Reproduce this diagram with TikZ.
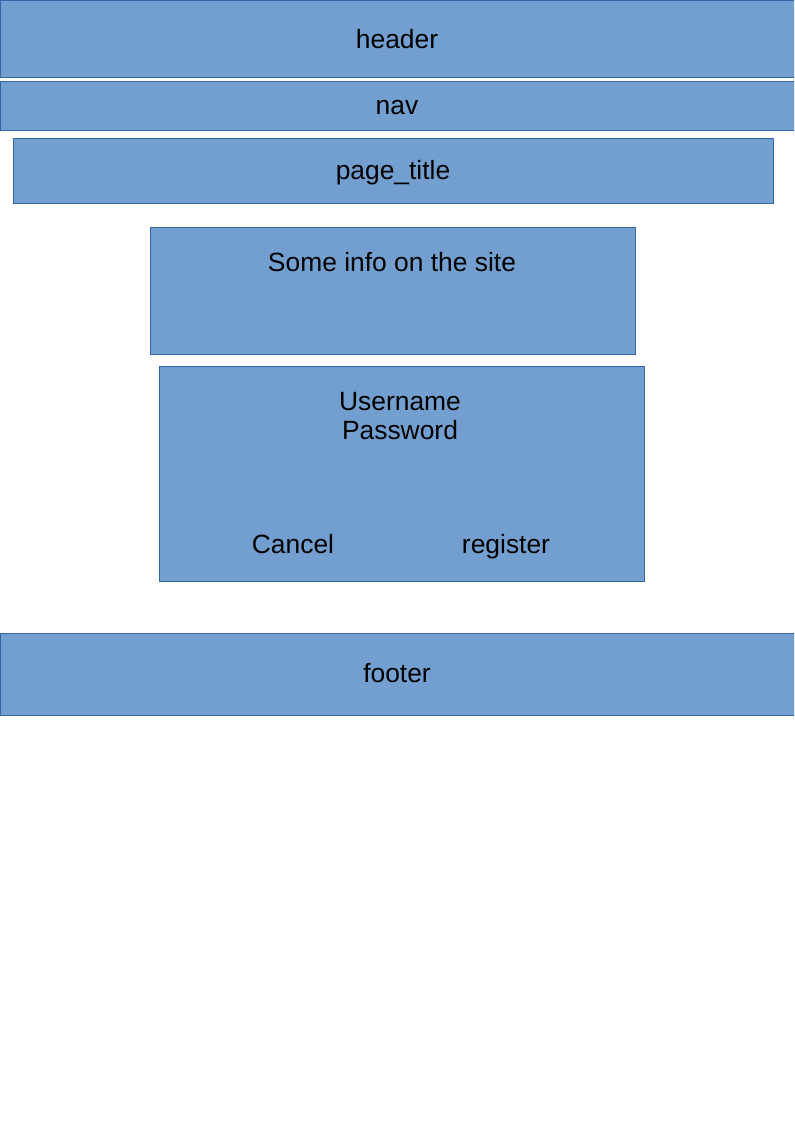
\documentclass[tikz,border=0pt]{standalone}
\usepackage{fontspec}
\setmainfont{Liberation Sans}
\usetikzlibrary{positioning}
\definecolor{boxblue}{RGB}{114,159,207}
\definecolor{edgeblue}{RGB}{52,101,164}
\tikzset{
    block/.style={rectangle, draw=edgeblue, fill=boxblue, line width=0.75pt, inner sep=0pt},
    btext/.style={font=\fontsize{19.8}{21.75}\selectfont, anchor=base, inner sep=0pt},
}
\begin{document}
\begin{tikzpicture}[x=0.75pt, y=-0.75pt]
    \useasboundingbox (0,0) rectangle (794,1123);
    \begin{scope}
        \clip (0,0) rectangle (794,1123);
        \node[block, minimum width=595.5pt, minimum height=57.75pt] (header) at (397,39.5) {};
        \node[block, minimum width=595.5pt, minimum height=36.75pt] (nav) at (397,106.5) {};
        \node[block, minimum width=570pt, minimum height=48.75pt] (pagetitle) at (393,171.5) {};
        \node[block, minimum width=363.75pt, minimum height=94.5pt] (info) at (392.5,291) {};
        \node[block, minimum width=363.75pt, minimum height=161.25pt] (login) at (401.5,473.5) {};
        \node[block, minimum width=595.5pt, minimum height=61.5pt] (footer) at (397,674) {};
    \end{scope}
    \node[btext] (headertext) at (397,48.5) {header};
    \node[btext] (navtext) at (397,115) {nav};
    \node[btext] (titletext) at (393,179.5) {page\_title};
    \node[btext] (infotext) at (392,271) {Some info on the site};
    \node[btext] (username) at (400,410) {Username};
    \node[btext] (password) at (400,439) {Password};
    \node[btext] (cancel) at (293,553) {Cancel};
    \node[btext] (register) at (506,553) {register};
    \node[btext] (footertext) at (397,682) {footer};
\end{tikzpicture}
\end{document}
